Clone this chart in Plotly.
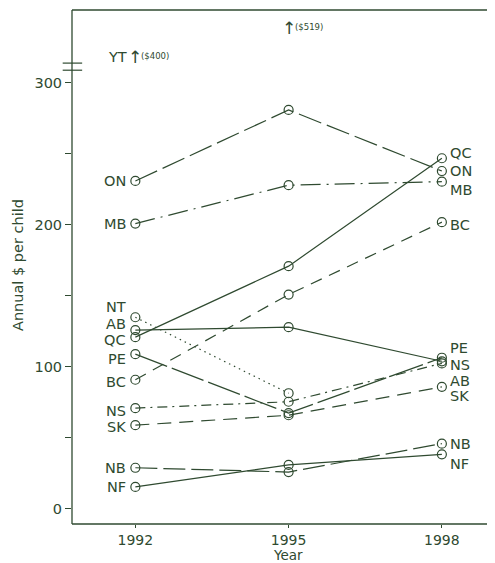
import plotly.graph_objects as go

years = [1992, 1995, 1998]
provinces = ["ON", "MB", "NT", "AB", "QC", "PE", "BC", "NS", "SK", "NB", "NF"]
values = {
    "ON": [231, 281, 238],
    "MB": [201, 228, 230.5],
    "NT": [135, 81.5, None],
    "AB": [126, 128, 104],
    "QC": [121, 171, 247],
    "PE": [109, 67.5, 106.5],
    "BC": [91, 151, 202],
    "NS": [71, 75.5, 102.5],
    "SK": [59, 66, 86],
    "NB": [29, 26, 46],
    "NF": [15.5, 31, 38.5],
}
yt_values = [400, 519]
yt_years = [1992, 1995]

C = "#2f4a30"
FONT = "DejaVu Sans"
FS = 14.5

dash = {
    "ON": "24px,6px",
    "MB": "20px,6px,2px,6px",
    "NT": "1.5px,4px",
    "AB": "solid",
    "QC": "solid",
    "PE": "34px,5px",
    "BC": "12px,8px",
    "NS": "10px,5px,2px,5px",
    "SK": "14px,8px",
    "NB": "22px,6px",
    "NF": "solid",
}
left_shift = {"ON": 0, "MB": 0, "NT": 10, "AB": 6, "QC": -3, "PE": -5, "BC": -2,
              "NS": -3, "SK": -2, "NB": 0, "NF": 0}
right_shift = {"ON": 0, "MB": -8, "NT": 0, "AB": -20, "QC": 5, "PE": 10, "BC": -3,
               "NS": -2, "SK": -9, "NB": 0, "NF": -10}

fig = go.Figure()
annotations = []
for p in provinces:
    v = values[p]
    fig.add_trace(go.Scatter(
        x=years, y=v, mode="lines+markers", name=p, connectgaps=False,
        line=dict(color=C, width=1.2, dash=dash[p]),
        marker=dict(symbol="circle-open", size=9, color=C, line=dict(width=1.2, color=C)),
        showlegend=False, cliponaxis=False,
    ))
    annotations.append(dict(x=years[0], y=v[0], text=p, showarrow=False, xanchor="right",
                            xshift=-7, yshift=left_shift[p], font=dict(size=FS, color=C, family=FONT)))
    if v[-1] is not None:
        annotations.append(dict(x=years[-1], y=v[-1], text=p, showarrow=False, xanchor="left",
                                xshift=6, yshift=right_shift[p], font=dict(size=FS, color=C, family=FONT)))

# YT off-scale indicators
yt_pos = [318, 339]
annotations.append(dict(x=yt_years[0], y=yt_pos[0], text="YT", showarrow=False, xanchor="right",
                        xshift=-6, font=dict(size=FS, color=C, family=FONT)))
for yr, val, pos in zip(yt_years, yt_values, yt_pos):
    annotations.append(dict(x=yr, y=pos, text="↑", showarrow=False, xanchor="center",
                            font=dict(size=17, color=C, family="DejaVu Sans")))
    annotations.append(dict(x=yr, y=pos, text=f"(${val})", showarrow=False, xanchor="left",
                            xshift=4, yshift=1, font=dict(size=8.5, color=C, family=FONT)))

# axis titles
annotations.append(dict(xref="paper", yref="paper", x=(288 - 72) / 423, y=0, text="Year", showarrow=False,
                        yshift=-31, borderpad=0, font=dict(size=13.5, color=C, family=FONT), yanchor="middle"))
annotations.append(dict(xref="paper", yref="paper", x=0, y=(524 - 265) / 514, text="Annual $ per child",
                        showarrow=False, textangle=-90, xshift=-54, xanchor="center", yanchor="middle",
                        borderpad=0, font=dict(size=FS, color=C, family=FONT)))

shapes = [
    dict(type="line", xref="paper", yref="paper", x0=0, x1=1.02, y0=1, y1=1, line=dict(color=C, width=1.3)),
    dict(type="line", xref="paper", yref="paper", x0=0, x1=0, y0=0, y1=1, line=dict(color=C, width=1.3)),
    dict(type="line", xref="paper", yref="paper", x0=0, x1=1.02, y0=0, y1=0, line=dict(color=C, width=1.3)),
    dict(type="line", xref="paper", yref="y", x0=-0.022, x1=0.024, y0=314, y1=314, line=dict(color=C, width=1.2)),
    dict(type="line", xref="paper", yref="y", x0=-0.022, x1=0.024, y0=309, y1=309, line=dict(color=C, width=1.2)),
]

fig.update_layout(
    width=487, height=555,
    margin=dict(l=64, r=0, t=2, b=39),
    plot_bgcolor="white", paper_bgcolor="white",
    annotations=annotations, shapes=shapes,
    font=dict(family=FONT, color=C, size=FS),
    xaxis=dict(range=[1990.76, 1999.04], tickvals=years, ticks="outside", ticklen=3,
               tickcolor=C, showgrid=False, zeroline=False, showline=False,
               tickfont=dict(size=14, color=C, family=FONT)),
    yaxis=dict(range=[-10.6, 351.4], tickvals=[0, 100, 200, 300], ticks="outside", ticklen=6,
               tickcolor=C, showgrid=False, zeroline=False, showline=False,
               minor=dict(tickvals=[50, 150, 250], ticks="outside", ticklen=6, tickcolor=C),
               tickfont=dict(size=FS, color=C, family=FONT)),
)

fig.write_html("out.html")
